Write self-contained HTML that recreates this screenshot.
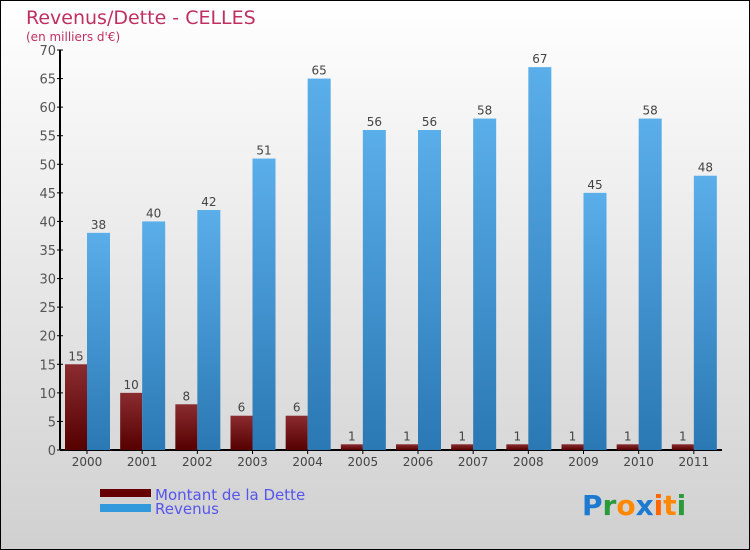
<!DOCTYPE html>
<html><head><meta charset="utf-8"><style>
body{margin:0}
svg{display:block;font-family:"DejaVu Sans","Liberation Sans",sans-serif}
</style></head><body>
<svg width="750" height="550" viewBox="0 0 750 550">
<defs>
<linearGradient id="bg" x1="0" y1="0" x2="0" y2="1"><stop offset="0" stop-color="#ffffff"/><stop offset="1" stop-color="#d0d0d0"/></linearGradient>
<linearGradient id="gd" x1="0" y1="0" x2="0" y2="1"><stop offset="0" stop-color="#8a2c30"/><stop offset="1" stop-color="#560000"/></linearGradient>
<linearGradient id="gr" x1="0" y1="0" x2="0" y2="1"><stop offset="0" stop-color="#5aaeea"/><stop offset="1" stop-color="#2a78b4"/></linearGradient>
</defs>
<rect x="0.5" y="0.5" width="749" height="549" fill="url(#bg)" stroke="#000"/>
<text x="26" y="24" font-size="19" fill="#c0305e">Revenus/Dette - CELLES</text>
<text x="26" y="41" font-size="12" fill="#c0305e">(en milliers d'€)</text>
<g id="axes"></g>
<g id="bars"></g>
<g>
<rect x="100" y="489" width="51" height="8" fill="#660000"/>
<text x="155" y="500" font-size="15" fill="#5555ee">Montant de la Dette</text>
<rect x="100" y="504" width="51" height="8" fill="#3399dd"/>
<text x="155" y="514" font-size="15" fill="#5555ee">Revenus</text>
</g>
<g font-size="28" font-weight="bold">
<text x="582" y="515"><tspan fill="#1e7ad0">P</tspan><tspan fill="#2a9a3a">r</tspan><tspan fill="#ff8800">o</tspan><tspan fill="#1e7ad0">x</tspan><tspan fill="#ff6600">i</tspan><tspan fill="#ff8800">t</tspan><tspan fill="#2a9a3a">i</tspan></text>
</g>
</svg>
<script>
const categories=["2000","2001","2002","2003","2004","2005","2006","2007","2008","2009","2010","2011"];
const debtValues=[15,10,8,6,6,1,1,1,1,1,1,1];
const revenueValues=[38,40,42,51,65,56,56,58,67,45,58,48];
const yTicks=[0,5,10,15,20,25,30,35,40,45,50,55,60,65,70];
const NS="http://www.w3.org/2000/svg";
const x0=60,x1=722,yBase=450,yTop=50,yMax=70;
const step=(x1-x0)/categories.length;
const y=v=>yBase-(v/yMax)*(yBase-yTop);
const xc=i=>x0+27+i*step;
function mk(tag,attrs,parent){const e=document.createElementNS(NS,tag);for(const k in attrs)e.setAttribute(k,attrs[k]);parent.appendChild(e);return e;}
const axes=document.getElementById('axes'),bars=document.getElementById('bars');
let a=mk('line',{x1:x0,y1:yTop,x2:x0,y2:yBase,stroke:'#000','stroke-width':2},axes);


a=mk('line',{x1:x0,y1:yBase,x2:x1,y2:yBase,stroke:'#000','stroke-width':2},axes);


yTicks.forEach(t=>{
 const l=mk('line',{x1:x0-3,y1:y(t),x2:x0+3,y2:y(t),stroke:'#000'},axes);
 
 
 const tx=mk('text',{x:x0-4,y:y(t)+5,'font-size':13,fill:'#555','text-anchor':'end'},axes);
 tx.textContent=t;
 
 
});
categories.forEach((c,i)=>{
 const cx=xc(i);
 const l=mk('line',{x1:cx,y1:yBase,x2:cx,y2:yBase+4,stroke:'#000'},axes);
 
 
 const tx=mk('text',{x:cx,y:yBase+16,'font-size':12,fill:'#444','text-anchor':'middle'},axes);
 tx.textContent=c;
 
 
 const d=debtValues[i],r=revenueValues[i];
 const bd=mk('rect',{x:cx-22,y:y(d),width:22,height:yBase-y(d),fill:'url(#gd)'},bars);
 
 
 const ld=mk('text',{x:cx-11,y:y(d)-4,'font-size':12,fill:'#444','text-anchor':'middle'},bars);
 ld.textContent=d;
 
 
 const br=mk('rect',{x:cx,y:y(r),width:23,height:yBase-y(r),fill:'url(#gr)'},bars);
 
 
 const lr=mk('text',{x:cx+11.5,y:y(r)-4,'font-size':12,fill:'#444','text-anchor':'middle'},bars);
 lr.textContent=r;
 
 
});
</script>
</body></html>
